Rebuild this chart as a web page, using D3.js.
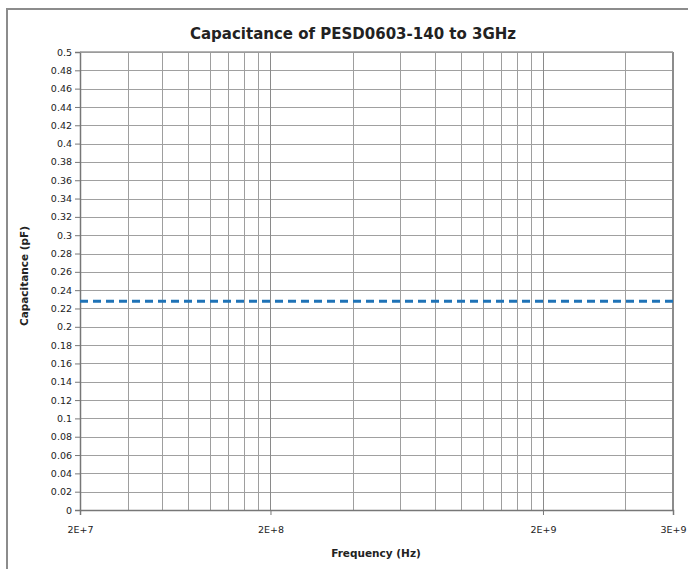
<!DOCTYPE html>
<html>
<head>
<meta charset="utf-8">
<script src="https://cdn.jsdelivr.net/npm/d3@7"></script>
<style>
  html, body { margin: 0; padding: 0; background: #fff; overflow: hidden; }
  svg { display: block; }
  text { font-family: "DejaVu Sans", sans-serif; fill: #222; }
</style>
</head>
<body>
<svg id="chart" width="688" height="569"></svg>
<script>
// ---- data ----
const frequency = [2e7, 5e7, 1e8, 3e8, 1e9, 3e9];
const capacitance = [0.228, 0.228, 0.228, 0.228, 0.228, 0.228];
const xTickValues = [2e7, 1e8, 1e9, 3e9];
const xTickLabels = ["2E+7", "2E+8", "2E+9", "3E+9"];
const xGridValues = [3e7, 4e7, 5e7, 6e7, 7e7, 8e7, 9e7, 1e8,
                     2e8, 3e8, 4e8, 5e8, 6e8, 7e8, 8e8, 9e8, 1e9, 2e9];
const yTickValues = d3.range(0, 26).map(i => +(i * 0.02).toFixed(2));
const titleText = "Capacitance of PESD0603-140 to 3GHz";
const xTitle = "Frequency (Hz)";
const yTitle = "Capacitance (pF)";

// ---- layout ----
const svg = d3.select("#chart");
const L = 80, R = 673, T = 52, B = 510;
const FONT = '"DejaVu Sans", sans-serif';

// outer frame
svg.append("path")
  .attr("d", "M7,700 L7,9 L700,9")
  .attr("fill", "none").attr("stroke", "#8c8c8c").attr("stroke-width", 2);

const x = d3.scaleLog().domain([2e7, 3e9]).range([L, R]);
const y = d3.scaleLinear().domain([0, 0.5]).range([B, T]);

// horizontal grid
svg.append("g").selectAll("line").data(yTickValues.filter(v => v > 0))
  .join("line")
  .attr("x1", L).attr("x2", R)
  .attr("y1", d => Math.round(y(d)) + 0.5).attr("y2", d => Math.round(y(d)) + 0.5)
  .attr("stroke", "#a0a0a0").attr("stroke-width", 1);

// vertical grid
svg.append("g").selectAll("line").data(xGridValues)
  .join("line")
  .attr("x1", d => Math.round(x(d)) + 0.5).attr("x2", d => Math.round(x(d)) + 0.5)
  .attr("y1", T).attr("y2", B)
  .attr("stroke", d => (d === 1e8 || d === 1e9) ? "#8a8a8a" : "#9e9e9e")
  .attr("stroke-width", 1);

// plot border right
svg.append("line").attr("x1", R).attr("x2", R).attr("y1", T).attr("y2", B)
  .attr("stroke", "#8c8c8c").attr("stroke-width", 2);

// y axis
const yAxis = d3.axisLeft(y).tickValues(yTickValues).tickSize(5).tickPadding(3)
  .tickFormat(d => d3.format("")(d));
const gy = svg.append("g").attr("transform", `translate(${L},0)`).call(yAxis);
gy.select(".domain").attr("stroke", "#777").attr("stroke-width", 1.5);
gy.selectAll(".tick line").attr("stroke", "#777");
gy.selectAll(".tick text").attr("font-size", 9.5).attr("fill", "#222")
  .style("font-family", FONT);

// x axis
const xAxis = d3.axisBottom(x).tickValues(xTickValues).tickSize(5).tickPadding(11)
  .tickFormat((d, i) => xTickLabels[i]);
const gx = svg.append("g").attr("transform", `translate(0,${B})`).call(xAxis);
gx.select(".domain").attr("stroke", "#777").attr("stroke-width", 1.5);
gx.selectAll(".tick line").attr("stroke", "#777");
gx.selectAll(".tick text").attr("font-size", 9.5).attr("fill", "#222")
  .style("font-family", FONT);

// top border line
svg.append("line").attr("x1", L).attr("x2", R).attr("y1", T).attr("y2", T)
  .attr("stroke", "#9a9a9a").attr("stroke-width", 1.5);

// data line
const line = d3.line().x((d, i) => x(frequency[i])).y(d => y(d));
svg.append("path").datum(capacitance)
  .attr("d", line)
  .attr("fill", "none")
  .attr("stroke", "#1f73b7")
  .attr("stroke-width", 3)
  .attr("stroke-dasharray", "8,5");

// titles
svg.append("text").attr("x", 353).attr("y", 39).attr("text-anchor", "middle")
  .attr("font-size", 15).attr("font-weight", "bold").text(titleText);
svg.append("text").attr("x", 376).attr("y", 557).attr("text-anchor", "middle")
  .attr("font-size", 10.5).attr("font-weight", "bold").text(xTitle);
svg.append("text").attr("transform", "translate(28,276) rotate(-90)")
  .attr("text-anchor", "middle")
  .attr("font-size", 10.5).attr("font-weight", "bold").text(yTitle);
</script>
</body>
</html>
